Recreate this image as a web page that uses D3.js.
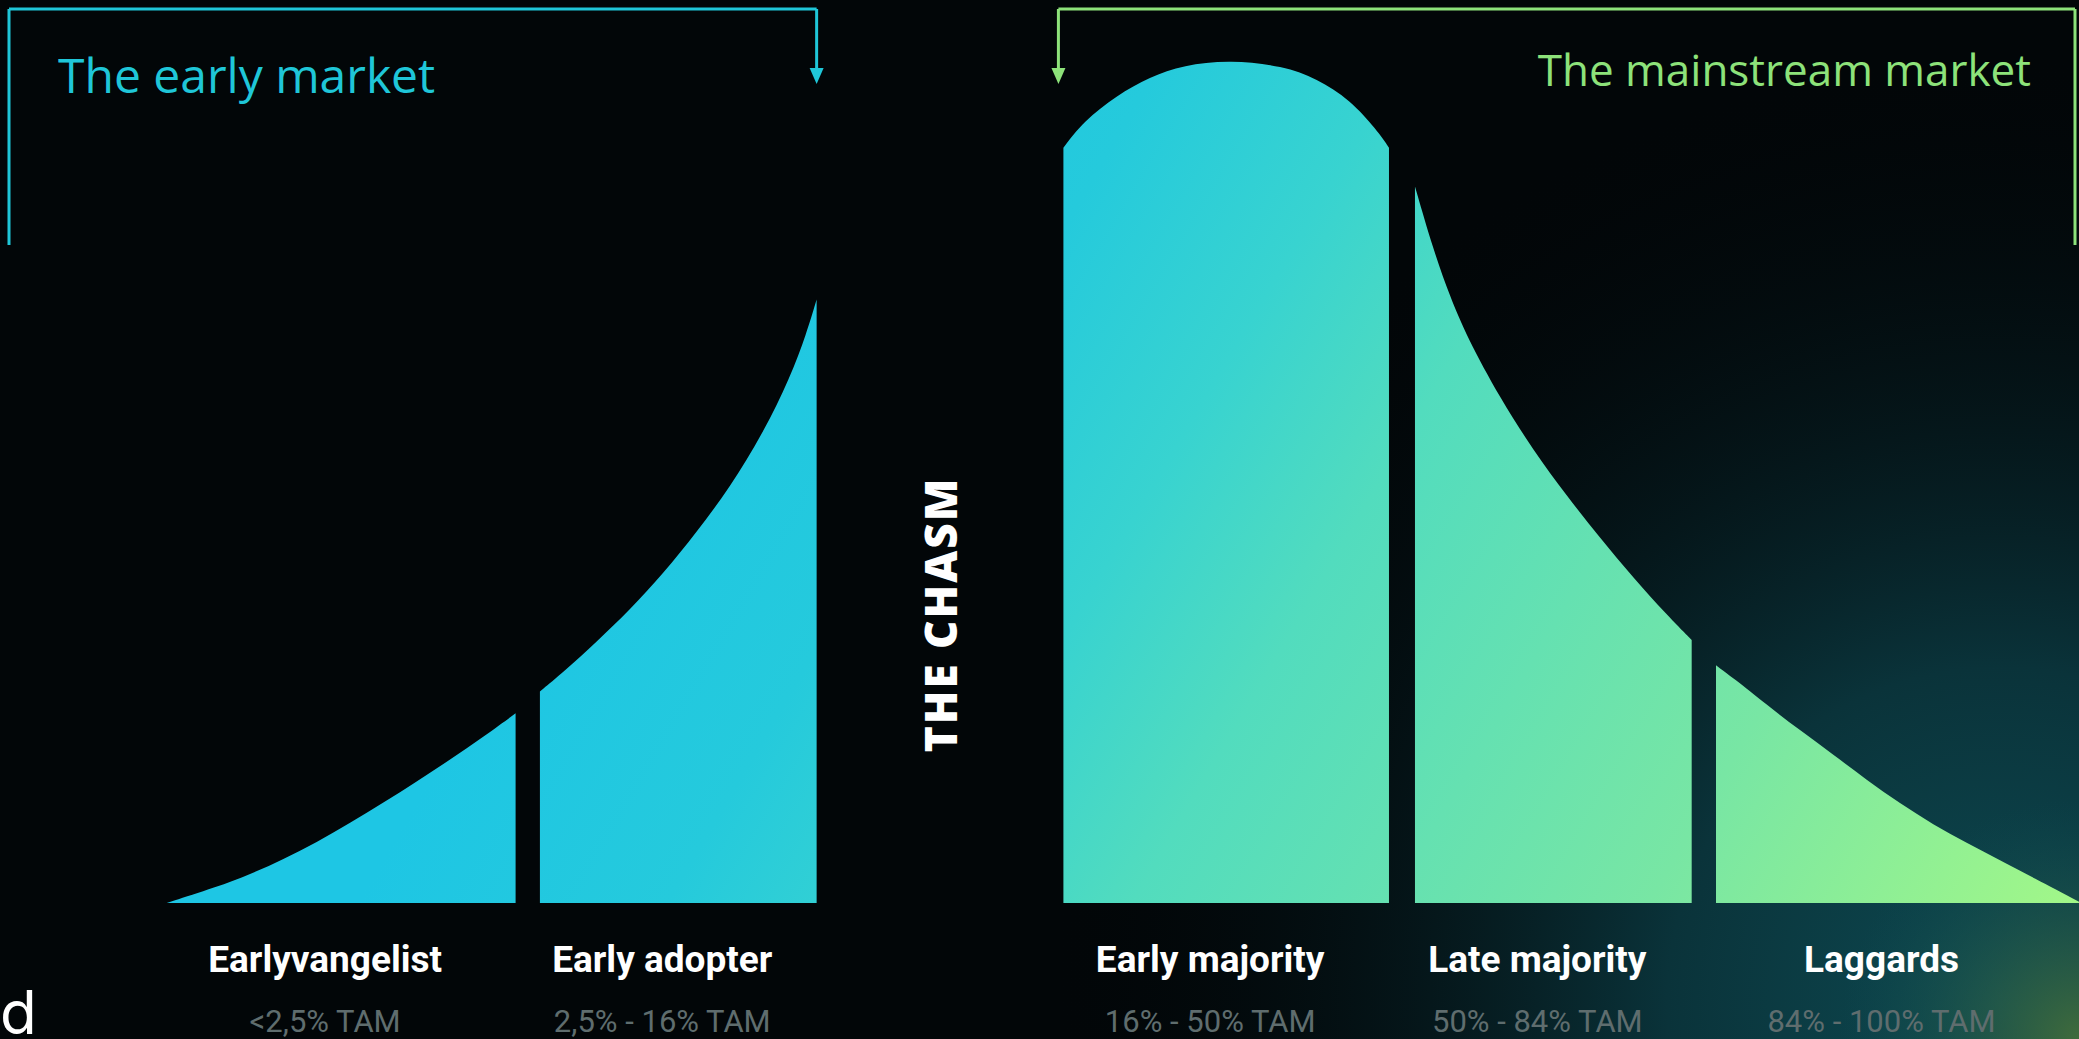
<!DOCTYPE html>
<html>
<head>
<meta charset="utf-8">
<script src="https://cdn.jsdelivr.net/npm/d3@7"></script>
<style>
  html, body { margin: 0; padding: 0; background: #020608; overflow: hidden; }
  svg { display: block; }
</style>
</head>
<body>
<svg id="chart"></svg>
<script>
// segment names and TAM ranges
var segments = ["Earlyvangelist", "Early adopter", "Early majority", "Late majority", "Laggards"];
var tamRanges = ["<2,5% TAM", "2,5% - 16% TAM", "16% - 50% TAM", "50% - 84% TAM", "84% - 100% TAM"];

// curve outline of each segment, position (% of width) and height (% of peak)
var curveX = [
  [8.02, 10.42, 12.03, 13.63, 15.23, 16.84, 18.44, 20.04, 21.65, 23.25, 24.80],
  [25.97, 27.10, 28.70, 30.30, 31.91, 33.51, 35.11, 36.72, 38.00, 38.80, 39.28],
  [51.15, 52.11, 53.71, 55.31, 56.92, 59.16, 61.73, 63.33, 64.94, 66.22, 66.81],
  [68.06, 68.94, 69.75, 70.55, 72.15, 73.75, 75.36, 76.96, 78.56, 80.17, 81.37],
  [82.54, 83.37, 84.98, 86.58, 88.18, 89.79, 91.39, 92.99, 94.60, 96.20, 97.80, 100]
];
var curveH = [
  [0, 1.9, 3.4, 5.2, 7.2, 9.5, 11.9, 14.4, 17.0, 19.7, 22.5],
  [25.1, 27.4, 31.0, 34.8, 39.1, 44.0, 49.3, 55.8, 62.3, 67.6, 71.6],
  [89.6, 92.7, 95.8, 98.0, 99.4, 100, 99.3, 97.8, 95.3, 91.7, 89.6],
  [85.0, 77.5, 71.9, 67.2, 59.9, 53.7, 48.3, 43.3, 38.6, 34.2, 31.2],
  [28.2, 26.7, 23.5, 20.5, 17.6, 14.6, 11.8, 9.3, 7.1, 5.1, 3.0, 0.15]
];

// market brackets: first and last segment covered
var markets = ["The early market", "The mainstream market"];
var marketSpan = [[0, 1], [2, 4]];

var W = 2079, H = 1039;

var svg = d3.select("#chart").attr("width", W).attr("height", H);
var defs = svg.append("defs");

var x = d3.scaleLinear().domain([0, 100]).range([0, W]);
var y = d3.scaleLinear().domain([0, 100]).range([903, 60]);

// background glow
var glow = defs.append("radialGradient").attr("id", "glow")
  .attr("gradientUnits", "userSpaceOnUse")
  .attr("cx", 2000).attr("cy", 1000).attr("r", 950);
glow.append("stop").attr("offset", "0%").attr("stop-color", "#0d4a52");
glow.append("stop").attr("offset", "35%").attr("stop-color", "#0a333a");
glow.append("stop").attr("offset", "100%").attr("stop-color", "#020608").attr("stop-opacity", 0);

var glow2 = defs.append("radialGradient").attr("id", "glow2")
  .attr("gradientUnits", "userSpaceOnUse")
  .attr("cx", 2079).attr("cy", 1039).attr("r", 240);
glow2.append("stop").attr("offset", "0%").attr("stop-color", "#46703a").attr("stop-opacity", 0.9);
glow2.append("stop").attr("offset", "100%").attr("stop-color", "#0e4a50").attr("stop-opacity", 0);

svg.append("rect").attr("width", W).attr("height", H).attr("fill", "#020608");
svg.append("rect").attr("width", W).attr("height", H).attr("fill", "url(#glow)");
svg.append("rect").attr("width", W).attr("height", H).attr("fill", "url(#glow2)");

// fill gradient of the curve
var fill = defs.append("linearGradient").attr("id", "fill")
  .attr("gradientUnits", "userSpaceOnUse")
  .attr("x1", 800).attr("y1", 150).attr("x2", 2079).attr("y2", 903);
[["0%", "#1ec6e4"], ["18%", "#25cadc"], ["32%", "#38d3d0"], ["45%", "#52dcbe"], ["75%", "#78e6a4"], ["100%", "#a2f788"]]
  .forEach(function(s) { fill.append("stop").attr("offset", s[0]).attr("stop-color", s[1]); });

var area = d3.area()
  .x(function(d) { return x(d.x); })
  .y0(y(0))
  .y1(function(d) { return y(d.h); })
  .curve(d3.curveBasis);

var data = segments.map(function(name, i) {
  return {
    name: name,
    range: tamRanges[i],
    points: curveX[i].map(function(v, j) { return {x: v, h: curveH[i][j]}; })
  };
});

svg.selectAll(".segment")
  .data(data)
  .enter().append("path")
  .attr("class", "segment")
  .attr("d", function(d) { return area(d.points); })
  .attr("fill", "url(#fill)");

// labels under each segment
function centre(d) {
  var p = d.points;
  return (x(p[0].x) + x(p[p.length - 1].x)) / 2 - 16;
}

svg.selectAll(".name")
  .data(data)
  .enter().append("text")
  .attr("class", "name")
  .attr("x", centre)
  .attr("y", 972)
  .attr("text-anchor", "middle")
  .style("font-family", "Roboto, sans-serif")
  .style("font-weight", 700)
  .style("font-size", "37px")
  .style("fill", "#ffffff")
  .text(function(d) { return d.name; });

svg.selectAll(".range")
  .data(data)
  .enter().append("text")
  .attr("class", "range")
  .attr("x", centre)
  .attr("y", 1032)
  .attr("text-anchor", "middle")
  .style("font-family", "Roboto, sans-serif")
  .style("font-size", "31px")
  .style("fill", "#5f6d6e")
  .text(function(d) { return d.range; });

// the chasm
svg.append("text")
  .attr("transform", "translate(957," + ((y(0) + y(100)) / 2 + 133) + ") rotate(-90)")
  .attr("text-anchor", "middle")
  .style("font-family", "'Open Sans', sans-serif")
  .style("font-weight", 800)
  .style("font-size", "44px")
  .style("letter-spacing", "2px")
  .style("fill", "#ffffff")
  .text("THE CHASM");

// brackets
var bracketColours = ["#1fc6d8", "#8de27a"];
var by = 9, arrowTip = 84, sideEnd = 245;

function bracket(i) {
  var first = data[marketSpan[i][0]].points[0];
  var lastSeg = data[marketSpan[i][1]].points;
  var g = svg.append("g").attr("stroke", bracketColours[i]).attr("fill", "none").attr("stroke-width", 3);
  var edge, arrowX;
  if (i === 0) {
    edge = 9;
    arrowX = x(lastSeg[lastSeg.length - 1].x);
  } else {
    edge = W - 4;
    arrowX = x(first.x) - 5;
  }
  g.append("line").attr("x1", Math.min(edge, arrowX)).attr("x2", Math.max(edge, arrowX))
    .attr("y1", by).attr("y2", by);
  g.append("line").attr("x1", edge).attr("x2", edge).attr("y1", by).attr("y2", sideEnd);
  g.append("line").attr("x1", arrowX).attr("x2", arrowX).attr("y1", by).attr("y2", arrowTip - 12);
  svg.append("path")
    .attr("d", "M" + (arrowX - 7) + "," + (arrowTip - 16) + "L" + (arrowX + 7) + "," + (arrowTip - 16) + "L" + arrowX + "," + arrowTip + "Z")
    .attr("fill", bracketColours[i]);
}
bracket(0);
bracket(1);

svg.append("text")
  .attr("x", 58).attr("y", 93)
  .style("font-family", "'Open Sans', sans-serif")
  .style("font-size", "48px")
  .style("fill", bracketColours[0])
  .text(markets[0]);

svg.append("text")
  .attr("x", 2031).attr("y", 86)
  .attr("text-anchor", "end")
  .style("font-family", "'Open Sans', sans-serif")
  .style("font-size", "44px")
  .style("fill", bracketColours[1])
  .text(markets[1]);

// logo letter at the lower left edge
svg.append("text")
  .attr("x", 0).attr("y", 1034)
  .style("font-family", "Inter, sans-serif")
  .style("font-size", "60px")
  .style("fill", "#ffffff")
  .text("d");
</script>
</body>
</html>
